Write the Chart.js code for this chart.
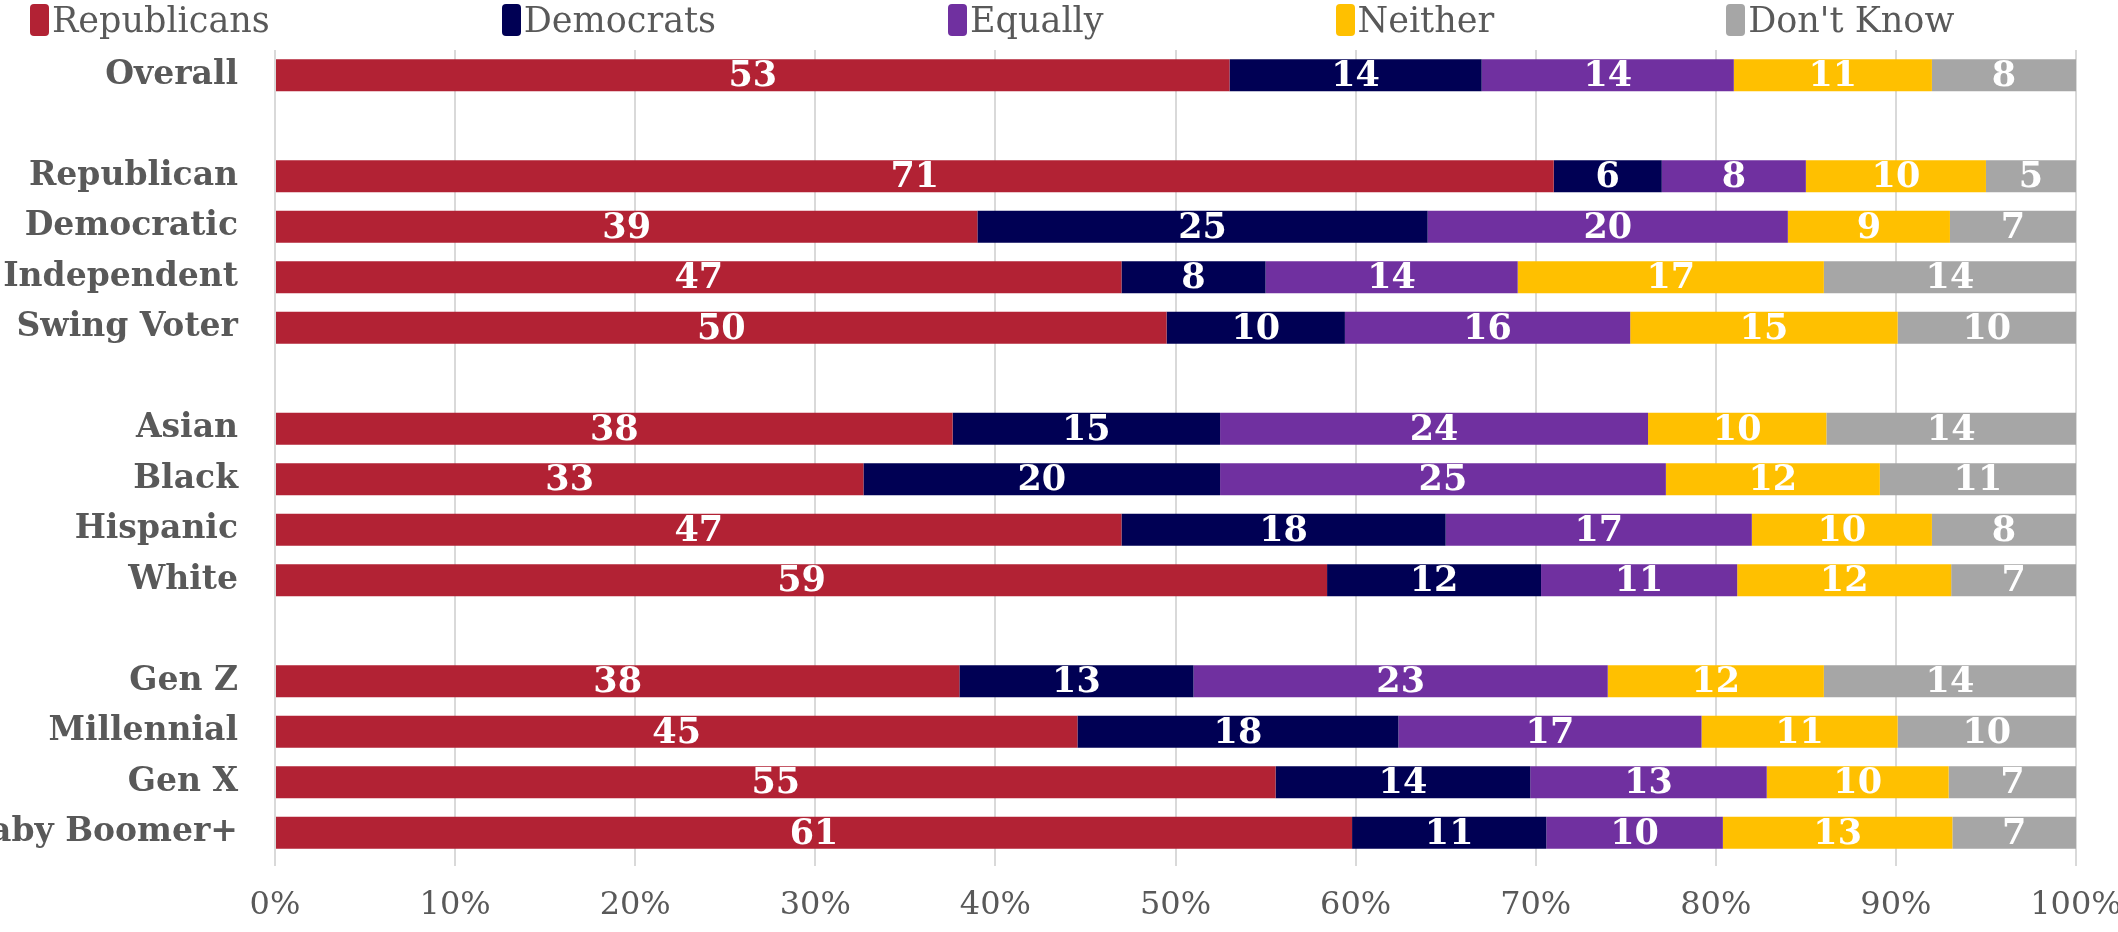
<!DOCTYPE html>
<html>
<head>
<meta charset="utf-8">
<script src="https://cdn.jsdelivr.net/npm/chart.js@4"></script>
<style>
  html, body { margin: 0; padding: 0; background: #fff; }
  #wrap { position: relative; width: 2118px; height: 932px; }
  #legend { position: absolute; left: 30px; top: 4px; display: flex; white-space: nowrap; font-family: 'DejaVu Serif', serif; font-size: 35px; color: #595959; }
  .item { display: flex; align-items: center; margin-right: 232px; height: 32px; line-height: 32px; white-space: nowrap; flex: none; }
  .swatch { width: 19px; height: 32px; border-radius: 4px; margin-right: 3px; }
</style>
</head>
<body>
<div id="wrap">
  <canvas id="chart" width="2118" height="932"></canvas>
  <div id="legend"></div>
</div>
<script>
'use strict';

// **** Data ****
let categories = ['Overall', '', 'Republican', 'Democratic', 'Independent', 'Swing Voter', '',
  'Asian', 'Black', 'Hispanic', 'White', '', 'Gen Z', 'Millennial', 'Gen X', 'Baby Boomer+'];

let republicans = [53, null, 71, 39, 47, 50, null, 38, 33, 47, 59, null, 38, 45, 55, 61];
let democrats   = [14, null, 6, 25, 8, 10, null, 15, 20, 18, 12, null, 13, 18, 14, 11];
let equally     = [14, null, 8, 20, 14, 16, null, 24, 25, 17, 11, null, 23, 17, 13, 10];
let neither     = [11, null, 10, 9, 17, 15, null, 10, 12, 10, 12, null, 12, 11, 10, 13];
let dontKnow    = [8, null, 5, 7, 14, 10, null, 14, 11, 8, 7, null, 14, 10, 7, 7];

let seriesNames = ['Republicans', 'Democrats', 'Equally', 'Neither', "Don't Know"];
let seriesValues = [republicans, democrats, equally, neither, dontKnow];
let seriesColors = ['#B22234', '#000054', '#7030A0', '#FFC000', '#A6A6A6'];

let tickLabels = ['0%', '10%', '20%', '30%', '40%', '50%', '60%', '70%', '80%', '90%', '100%'];


// **** Helpers ****

// each row is shown as share of its own total (rows don't always add to exactly 100)
let totals = categories.map((c, i) => {
  if (republicans[i] === null) return null;
  let sum = 0;
  for (let s = 0; s < seriesValues.length; s++) sum += seriesValues[s][i];
  return sum;
});

let datasets = seriesValues.map((values, s) => ({
  label: seriesNames[s],
  values: values,
  data: values.map((v, i) => v === null ? null : v / totals[i] * 100),
  backgroundColor: seriesColors[s],
  borderWidth: 0,
  barPercentage: 0.634,
  categoryPercentage: 1
}));

let barLabels = {
  id: 'barLabels',
  afterDatasetsDraw(chart) {
    let ctx = chart.ctx;
    ctx.save();
    ctx.font = 'bold 35px "DejaVu Serif"';
    ctx.fillStyle = '#ffffff';
    ctx.textAlign = 'center';
    ctx.textBaseline = 'middle';
    chart.data.datasets.forEach((ds, i) => {
      chart.getDatasetMeta(i).data.forEach((bar, j) => {
        let v = ds.values[j];
        if (v === null) return;
        let p = bar.getProps(['x', 'y', 'base'], true);
        ctx.fillText(String(v), (p.x + p.base) / 2, p.y + 2);
      });
    });
    ctx.restore();
  }
};

function renderLegend() {
  let legend = document.getElementById('legend');
  for (let s = 0; s < seriesNames.length; s++) {
    let item = document.createElement('div');
    item.className = 'item';
    let swatch = document.createElement('span');
    swatch.className = 'swatch';
    swatch.style.background = seriesColors[s];
    let text = document.createElement('span');
    text.textContent = seriesNames[s];
    item.appendChild(swatch);
    item.appendChild(text);
    legend.appendChild(item);
  }
}


// **** Chart ****

let chartObj = {
  type: 'bar',
  data: {
    labels: categories,
    datasets: datasets
  },
  options: {
    indexAxis: 'y',
    responsive: false,
    animation: false,
    layout: { padding: { top: 50, right: 42, left: 0, bottom: 0 } },
    plugins: {
      legend: { display: false },
      tooltip: { enabled: false }
    },
    scales: {
      x: {
        stacked: true,
        min: 0,
        max: 100,
        border: { display: false },
        grid: { color: '#d9d9d9', lineWidth: 2, tickLength: 8 },
        ticks: {
          stepSize: 10,
          padding: 20,
          color: '#595959',
          font: { family: 'DejaVu Serif', size: 32 },
          callback: (value, index) => tickLabels[index]
        },
        afterFit: (scale) => {
          scale.height = 74;
          scale.paddingLeft = 0;
          scale.paddingRight = 0;
        }
      },
      y: {
        stacked: true,
        border: { display: false },
        grid: { display: false, drawTicks: false },
        ticks: {
          padding: 37,
          color: '#595959',
          font: { family: 'DejaVu Serif', size: 33, weight: 'bold' }
        },
        afterFit: (scale) => {
          scale.width = 275;
          scale.paddingTop = 0;
          scale.paddingBottom = 0;
        }
      }
    }
  },
  plugins: [barLabels]
};

renderLegend();
new Chart(document.getElementById('chart'), chartObj);
</script>
</body>
</html>
